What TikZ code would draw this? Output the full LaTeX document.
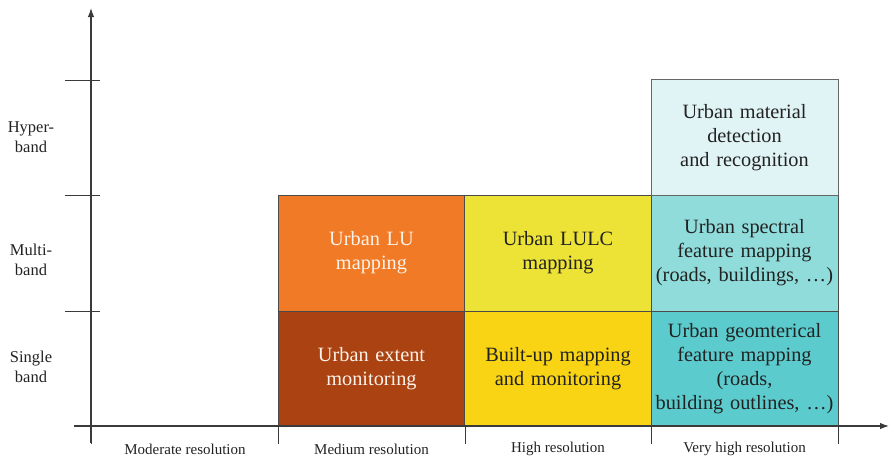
\documentclass[tikz,border=0pt]{standalone}
\usepackage{fontspec}
\setmainfont{Liberation Serif}
\usetikzlibrary{arrows.meta}
\definecolor{axisgray}{HTML}{3A3A3A}
\definecolor{cellline}{HTML}{4A4A4A}
\definecolor{luorange}{HTML}{F07A25}
\definecolor{extentbrown}{HTML}{AB4212}
\definecolor{lulcyellow}{HTML}{EDE236}
\definecolor{builtgold}{HTML}{F9D414}
\definecolor{paleaqua}{HTML}{E0F4F6}
\definecolor{midaqua}{HTML}{8FDCDA}
\definecolor{deepaqua}{HTML}{5BCBCD}
\definecolor{darktext}{HTML}{222222}
\definecolor{lighttext}{HTML}{FBF3EA}
\begin{document}
\begin{tikzpicture}[x=1pt,y=-1pt,
  axis/.style={draw=axisgray,line width=1.2pt},
  tick/.style={draw=axisgray,line width=1pt},
  cell/.style={draw=cellline,line width=0.8pt,minimum width=187pt,minimum height=116pt,
    inner sep=0pt,align=center,text width=184pt,
    font=\fontsize{20.3}{24}\selectfont,text=darktext},
  whitecell/.style={cell,text=lighttext},
  bandlabel/.style={align=center,font=\fontsize{16.5}{20}\selectfont,text=darktext},
  reslabel/.style={font=\fontsize{15}{18}\selectfont,text=darktext}
]
\useasboundingbox (0,0) rectangle (889,459);

% grid cells
\node[whitecell,fill=extentbrown] (extent) at (371.5,368.5) {Urban extent\\monitoring};
\node[whitecell,fill=luorange] (lu) at (371.5,253) {Urban LU\\mapping};
\node[cell,fill=builtgold] (built) at (558,368.5) {Built-up mapping\\and monitoring};
\node[cell,fill=lulcyellow] (lulc) at (558,253) {Urban LULC\\mapping};
\node[cell,fill=deepaqua] (geom) at (744.5,368.5) {Urban geomterical\\feature mapping\\(roads,\\building outlines, \dots)};
\node[cell,fill=midaqua] (spec) at (744.5,253) {Urban spectral\\feature mapping\\(roads, buildings, \dots)};
\node[cell,fill=paleaqua,draw=gray!80!black] (mat) at (744.5,137.5) {Urban material\\detection\\and recognition};

% axes
\coordinate (yb) at (91,443);
\coordinate (yt) at (91,8);
\coordinate (xl) at (74,426);
\coordinate (xr) at (889,426);
\draw[axis,-{Latex[length=9pt,width=6.5pt]}] (yb) -- (yt);
\draw[axis,-{Latex[length=9pt,width=6.5pt]}] (xl) -- (xr);

% y ticks
\foreach \yy/\nm in {80/ta,195/tb,311/tc}{
  \coordinate (\nm l) at (65,\yy);
  \coordinate (\nm r) at (100,\yy);
  \draw[tick] (\nm l) -- (\nm r);
}
% x ticks
\foreach \xx/\nm in {91/xa,278/xb,465/xc,651/xd,838/xe}{
  \coordinate (\nm t) at (\xx,426);
  \coordinate (\nm b) at (\xx,444);
  \draw[tick] (\nm t) -- (\nm b);
}

% band labels
\node[bandlabel] (hyper) at (31,137) {Hyper-\\band};
\node[bandlabel] (multi) at (31,260) {Multi-\\band};
\node[bandlabel] (single) at (31,367) {Single\\band};

% resolution labels
\node[reslabel] (moderate) at (185,449) {Moderate resolution};
\node[reslabel] (medium) at (371.5,449) {Medium resolution};
\node[reslabel] (high) at (558,449) {High resolution};
\node[reslabel] (veryhigh) at (744.5,449) {Very high resolution};
\end{tikzpicture}
\end{document}
